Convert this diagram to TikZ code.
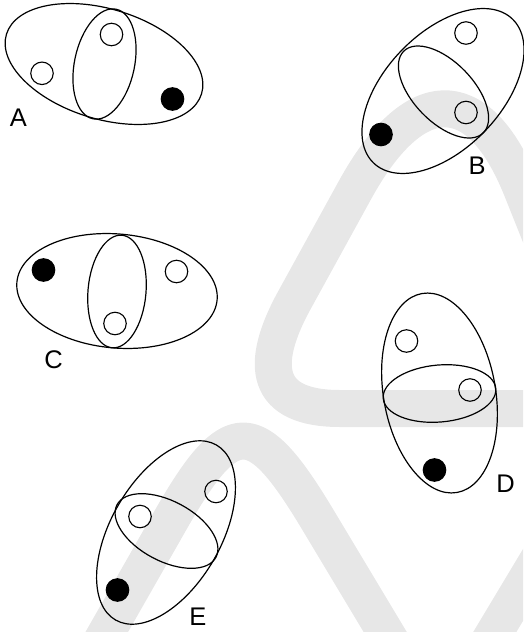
\documentclass[tikz,border=0pt]{standalone}
\usepackage{fontspec}
\setmainfont{Liberation Sans}
\definecolor{wm}{RGB}{231,231,231}
\begin{document}
\begin{tikzpicture}[x=1pt,y=-1pt,
  ring/.style={draw=black, line width=1.2pt},
  oc/.style={circle, draw=black, line width=1.1pt, minimum size=22.5pt, inner sep=0pt},
  fc/.style={oc, fill=black},
  lab/.style={font=\fontsize{25.5}{30}\selectfont, inner sep=0pt},
  band/.style={draw=wm, line width=37pt, line join=round}]
\useasboundingbox (0,0) rectangle (523,632);
% light watermark bands
\begin{scope}
\clip (0,0) rectangle (523,632);
\draw[band] (570,310) -- (522,190) .. controls (477.5,78.6) and (412.8,84.9) .. (355,190)
  -- (294.5,300) .. controls (258.4,365.7) and (265,408.5) .. (340,408.5) -- (570,408.5);
\draw[band] (90.8,660) -- (170.6,520) .. controls (231,414) and (255.3,415.4) .. (318,520) -- (402,660);
\draw[band] (478,660) -- (562,520);
\end{scope}
% A
\draw[ring, shift={(104,64)}, rotate=-17] (0,0) ellipse [x radius=102pt, y radius=55pt];
\draw[ring, shift={(104.5,64)}, rotate=-12] (0,0) ellipse [x radius=30pt, y radius=56pt];
\node[oc] (a1) at (42,73.3) {};
\node[oc] (a2) at (111.5,34.5) {};
\node[fc] (a3) at (172.5,99) {};
\node[lab] (la) at (18.5,118) {A};
% B
\draw[ring, shift={(443,91)}, rotate=46] (0,0) ellipse [x radius=100pt, y radius=58pt];
\draw[ring, shift={(443.5,92)}, rotate=-46] (0,0) ellipse [x radius=57pt, y radius=30pt];
\node[oc] (b1) at (466,33) {};
\node[oc] (b2) at (466,112.5) {};
\node[fc] (b3) at (381,134.5) {};
\node[lab] (lb) at (477,165.5) {B};
% C
\draw[ring, shift={(117,291)}, rotate=-5] (0,0) ellipse [x radius=100.5pt, y radius=57pt];
\draw[ring, shift={(117,291.5)}, rotate=-5] (0,0) ellipse [x radius=29pt, y radius=56.5pt];
\node[fc] (c1) at (43.5,270) {};
\node[oc] (c2) at (176.5,271.5) {};
\node[oc] (c3) at (115,323.5) {};
\node[lab] (lc) at (53.5,359.5) {C};
% D
\draw[ring, shift={(439.5,393)}, rotate=10] (0,0) ellipse [x radius=56pt, y radius=101pt];
\draw[ring, shift={(439.5,393.5)}, rotate=5] (0,0) ellipse [x radius=56.5pt, y radius=28.5pt];
\node[oc] (d1) at (406.5,341) {};
\node[oc] (d2) at (470,390) {};
\node[fc] (d3) at (434.5,470) {};
\node[lab] (ld) at (505.5,483.5) {D};
% E
\draw[ring, shift={(166,532.5)}, rotate=60] (0,0) ellipse [x radius=101pt, y radius=55pt];
\draw[ring, shift={(166.5,531)}, rotate=-28] (0,0) ellipse [x radius=56pt, y radius=30pt];
\node[oc] (e1) at (216,491.5) {};
\node[oc] (e2) at (140,516.5) {};
\node[fc] (e3) at (117.5,590) {};
\node[lab] (le) at (198,617) {E};
\end{tikzpicture}
\end{document}
